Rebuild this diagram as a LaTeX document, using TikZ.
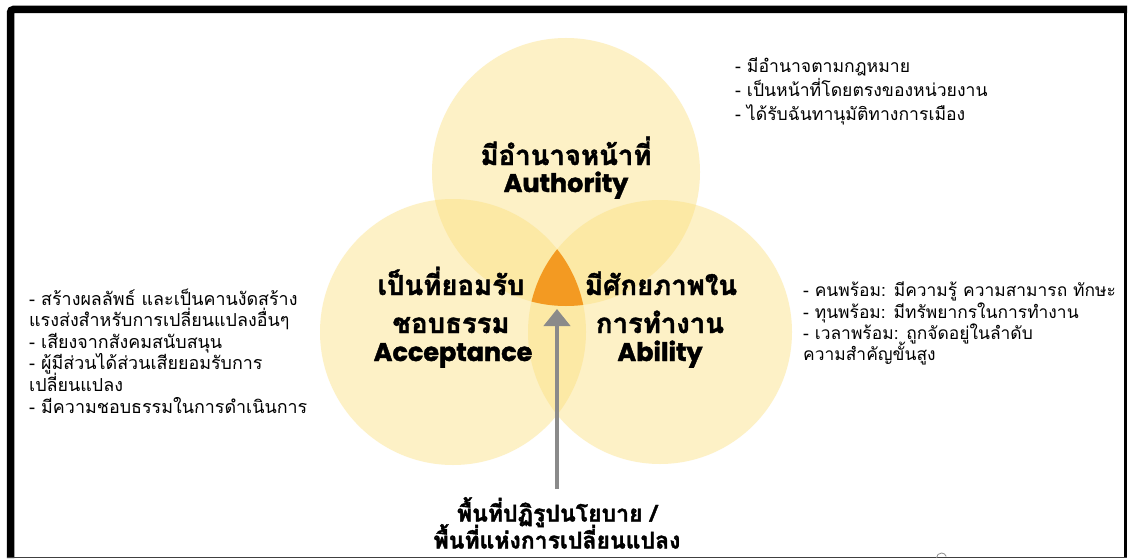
\documentclass[tikz,border=0pt]{standalone}
\usepackage{fontspec}
\newfontfamily\thai[Script=Thai,BoldFeatures={FakeBold=1.6}]{Loma}
\newfontfamily\enfont[BoldFeatures={FakeBold=1.6}]{Poppins}
\usetikzlibrary{arrows.meta}
\definecolor{circfill}{RGB}{252,222,120}
\definecolor{core}{RGB}{243,154,34}
\definecolor{arrowgray}{RGB}{138,138,138}
\begin{document}
\begin{tikzpicture}[x=1pt,y=-1pt,
  venn/.style={fill=circfill,fill opacity=0.42},
  bullet/.style={anchor=base west,inner sep=0,font=\thai\fontsize{17.6}{21}\selectfont},
  thlabel/.style={anchor=base,inner sep=0,font=\thai\bfseries\fontsize{27.5}{30}\selectfont},
  enlabel/.style={anchor=base,inner sep=0,font=\enfont\bfseries\fontsize{25.5}{28}\selectfont},
  bottomlabel/.style={anchor=base,inner sep=0,text depth=0pt,font=\thai\bfseries\fontsize{23}{26}\selectfont},
  pointer/.style={draw=arrowgray,line width=4.5pt,-{Triangle[width=26pt,length=17pt]}}]
\useasboundingbox (0,0) rectangle (1130,559);
\fill[white] (0,0) rectangle (1130,559);
% frame
\draw[line width=7.5pt,rounded corners=3pt] (10.5,558) -- (10.5,9.5) -- (1127,9.5);
\draw[line width=3pt] (1125.5,12) -- (1125.5,558);
\draw[line width=1.5pt,black!75] (7,557.6) -- (1127,557.6);
% circles
\coordinate (ctop) at (566,172);
\coordinate (cleft) at (453,332);
\coordinate (cright) at (660,332);
\fill[venn] (ctop) circle[radius=134pt];
\fill[venn] (cleft) circle[radius=133pt];
\fill[venn] (cright) circle[radius=132pt];
\begin{scope}
  \clip (cleft) circle[radius=133pt];
  \clip (cright) circle[radius=132pt];
  \fill[core] (ctop) circle[radius=134pt];
\end{scope}
% labels
\node[thlabel] (ta) at (566,165) {มีอำนาจหน้าที่};
\node[enlabel] (te) at (566,192) {Authority};
\node[thlabel] (la1) at (451,295) {เป็นที่ยอมรับ};
\node[thlabel] (la2) at (451,333) {ชอบธรรม};
\node[enlabel] (le) at (453,361) {Acceptance};
\node[thlabel] (ra1) at (661,295) {มีศักยภาพใน};
\node[thlabel] (ra2) at (660,333) {การทำงาน};
\node[enlabel] (re) at (660,361) {Ability};
% bullets top right
\node[bullet] (tr1) at (735,73) {- มีอำนาจตามกฎหมาย};
\node[bullet] (tr2) at (735,97) {- เป็นหน้าที่โดยตรงของหน่วยงาน};
\node[bullet] (tr3) at (735,121) {- ได้รับฉันทานุมัติทางการเมือง};
% bullets left
\begin{scope}[bullet/.append style={font=\thai\fontsize{17.9}{21}\selectfont}]
\node[bullet] (l1) at (29,305) {- สร้างผลลัพธ์ และเป็นคานงัดสร้าง};
\node[bullet] (l2) at (29,326.6) {แรงส่งสำหรับการเปลี่ยนแปลงอื่นๆ};
\node[bullet] (l3) at (29,348.2) {- เสียงจากสังคมสนับสนุน};
\node[bullet] (l4) at (29,369.8) {- ผู้มีส่วนได้ส่วนเสียยอมรับการ};
\node[bullet] (l5) at (29,391.4) {เปลี่ยนแปลง};
\node[bullet] (l6) at (29,413) {- มีความชอบธรรมในการดำเนินการ};
\end{scope}
% bullets right
\begin{scope}[bullet/.append style={font=\thai\fontsize{17.4}{21}\selectfont}]
\node[bullet] (r1) at (803,296.7) {- คนพร้อม: มีความรู้ ความสามารถ ทักษะ};
\node[bullet] (r2) at (803,318) {- ทุนพร้อม: มีทรัพยากรในการทำงาน};
\node[bullet] (r3) at (803,339.3) {- เวลาพร้อม: ถูกจัดอยู่ในลำดับ};
\node[bullet] (r4) at (803,360.7) {ความสำคัญขั้นสูง};
\end{scope}
% bottom text and arrow
\node[bottomlabel] (b1) at (557,521.5) {พื้นที่ปฏิรูปนโยบาย /};
\node[bottomlabel] (b2) at (557,548.5) {พื้นที่แห่งการเปลี่ยนแปลง};
\coordinate (foot) at (557,489);
\coordinate (tip) at (557,309);
\draw[pointer] (foot) -- (tip);
% small icon at bottom edge
\draw[black!45,line width=0.8pt] (936.5,558) arc[start angle=180,end angle=20,radius=5pt];
\end{tikzpicture}
\end{document}
